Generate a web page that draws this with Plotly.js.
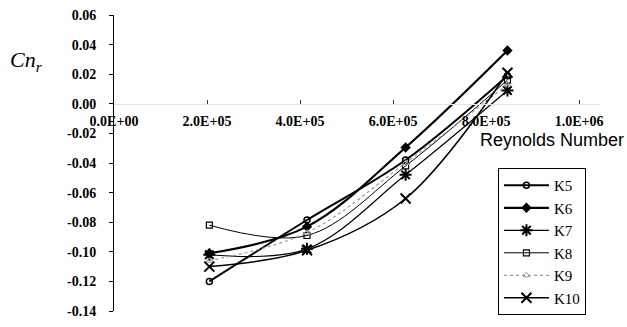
<!DOCTYPE html>
<html>
<head>
<meta charset="utf-8">
<script src="https://cdn.plot.ly/plotly-3.0.1.min.js"></script>
<style>html,body{margin:0;padding:0;background:#fff;}#chart{width:627px;height:327px;}</style>
</head>
<body>
<div id="chart"></div>
<script>
// Reynolds numbers (x)
const reynolds = [205000, 415000, 627000, 846000];
// Cn_r series
const K5  = [-0.120, -0.0785, -0.038, 0.019];
const K6  = [-0.101, -0.083, -0.0295, 0.036];
const K7  = [-0.102, -0.098, -0.048, 0.009];
const K8  = [-0.082, -0.089, -0.042, 0.016];
const K9  = [-0.106, -0.087, -0.040, 0.013];
const K10 = [-0.110, -0.099, -0.064, 0.021];
const seriesNames = ['K5', 'K6', 'K7', 'K8', 'K9', 'K10'];
// Tick labels
const xTickVals = [0, 200000, 400000, 600000, 800000, 1000000];
const xTickText = ['0.0E+00', '2.0E+05', '4.0E+05', '6.0E+05', '8.0E+05', '1.0E+06'];
const yTickVals = [0.06, 0.04, 0.02, 0.00, -0.02, -0.04, -0.06, -0.08, -0.10, -0.12, -0.14];
const yTickText = ['0.06', '0.04', '0.02', '0.00', '-0.02', '-0.04', '-0.06', '-0.08', '-0.10', '-0.12', '-0.14'];

const seriesData = [K5, K6, K7, K8, K9, K10];
const styles = [
  {line: {color: '#000', width: 2, shape: 'spline'}, marker: {symbol: 'circle-open', size: 6, color: '#000', line: {width: 1.5}}},
  {line: {color: '#000', width: 2.2, shape: 'spline'}, marker: {symbol: 'diamond', size: 8, color: '#000'}},
  {line: {color: '#000', width: 1.2, shape: 'spline'}, marker: {symbol: 'asterisk-open', size: 10, color: '#000', line: {width: 2}}},
  {line: {color: '#000', width: 1, shape: 'spline'}, marker: {symbol: 'square-open', size: 6, color: '#000', line: {width: 1.2}}},
  {line: {color: '#999', width: 1.2, dash: 'dot', shape: 'spline'}, marker: {symbol: 'triangle-up-open', size: 6, color: '#999', line: {width: 1}}},
  {line: {color: '#000', width: 1.5, shape: 'spline'}, marker: {symbol: 'x-thin-open', size: 10, color: '#000', line: {width: 2}}}
];

const traces = seriesData.map((ys, i) => Object.assign({
  type: 'scatter', mode: 'lines+markers', name: seriesNames[i],
  x: reynolds, y: ys
}, styles[i]));

const layout = {
  width: 627, height: 327,
  margin: {l: 114, r: 27, t: 15, b: 12},
  paper_bgcolor: '#fff', plot_bgcolor: '#fff',
  font: {family: 'Liberation Serif', color: '#000', size: 14},
  showlegend: true,
  legend: {
    x: 0.79, y: 0.483, xanchor: 'left', yanchor: 'top',
    bordercolor: '#000', borderwidth: 1, bgcolor: '#fff',
    font: {family: 'Liberation Serif', size: 15, color: '#000'},
    itemwidth: 45, tracegroupgap: 0
  },
  xaxis: {
    range: [0, 1045000], anchor: 'free', position: 0.7,
    tickvals: xTickVals, ticktext: xTickText,
    showgrid: false, zeroline: false,
    showline: true, linecolor: '#e4e4e4', linewidth: 1,
    ticks: 'inside', ticklen: 4, tickcolor: '#333', tickwidth: 1,
    ticklabelstandoff: 4,
    tickfont: {family: 'Liberation Serif', size: 14, color: '#000', weight: 'bold'}
  },
  yaxis: {
    range: [-0.14, 0.06],
    tickvals: yTickVals, ticktext: yTickText,
    showgrid: false, zeroline: false,
    showline: true, linecolor: '#000', linewidth: 1,
    ticks: 'outside', ticklen: 4, tickcolor: '#000', tickwidth: 1,
    ticklabelstandoff: 10,
    tickfont: {family: 'Liberation Serif', size: 14, color: '#000', weight: 'bold'}
  },
  annotations: [
    {xref: 'paper', yref: 'paper', x: (478 - 114) / 486, y: (315 - 142) / 300,
     xanchor: 'left', yanchor: 'middle', showarrow: false,
     text: 'Reynolds Number', font: {family: 'Liberation Sans', size: 18, color: '#000'}},
    {xref: 'paper', yref: 'paper', x: (8 - 114) / 486, y: (315 - 62) / 300,
     xanchor: 'left', yanchor: 'middle', showarrow: false,
     text: '<i>Cn<sub>r</sub></i>', font: {family: 'Liberation Serif', size: 22, color: '#000'}}
  ]
};

Plotly.newPlot('chart', traces, layout, {staticPlot: true, displayModeBar: false});
</script>
</body>
</html>
